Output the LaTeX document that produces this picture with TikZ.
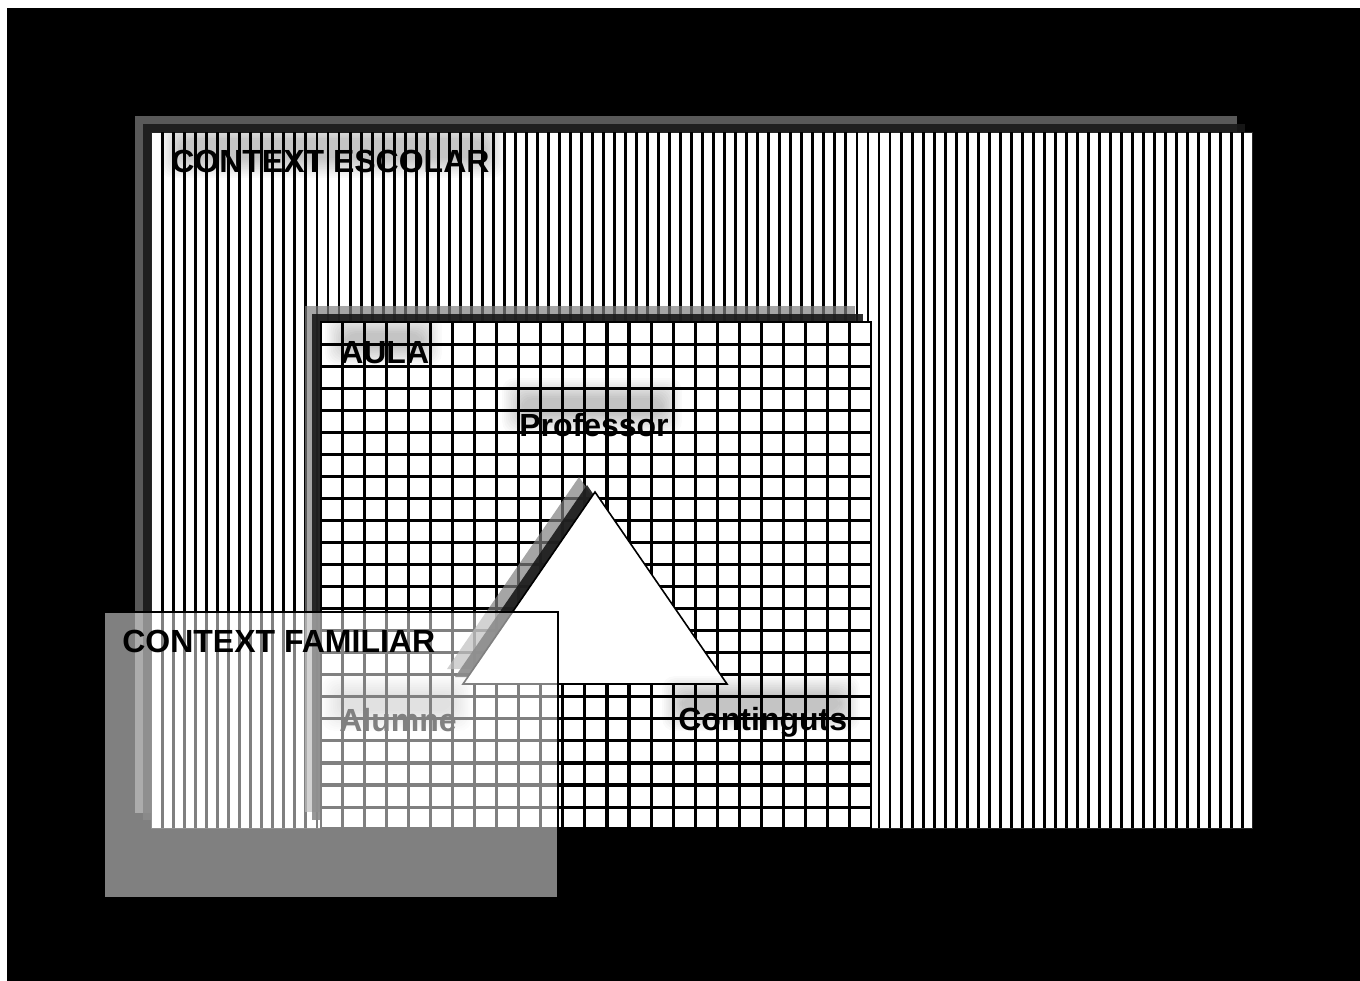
\documentclass[tikz,border=0pt]{standalone}
\usepackage{fontspec}
\setmainfont{Liberation Sans}
\definecolor{shgray}{gray}{0.5}
\definecolor{shdark}{gray}{0.1}
\newcommand\myglow[4]{%
  \foreach \g in {0,...,11}{%
    \fill[black, fill opacity=0.02, rounded corners=9pt]
      ({#1-(11-\g)*1.8},{#2-(11-\g)*1.8}) rectangle ({#3+(11-\g)*1.8},{#4+(11-\g)*1.8});
  }%
}
\begin{document}
\begin{tikzpicture}[x=0.75pt,y=-0.75pt,
  lbl/.style={inner sep=0pt, anchor=base west, font=\fontsize{24}{28}\selectfont\bfseries, text=black},
  shadowA/.style={fill=shgray, fill opacity=0.7},
  shadowB/.style={fill=shdark, fill opacity=0.9},
  stripe/.style={line width=2.2pt, draw=black},
  gridline/.style={line width=2.3pt, draw=black},
]
\useasboundingbox (0,0) rectangle (1360,981);
\fill[white] (0,0) rectangle (1360,981);
\fill[black] (7,8) rectangle (1360,981);

% CONTEXT ESCOLAR box
\fill[shadowA] (135,116) rectangle (1237,813);
\fill[shadowB] (143,124) rectangle (1245,820);
\draw[fill=white, draw=black!85, line width=0.75pt] (151,132) rectangle (1252,828);
\foreach \k in {0,...,98} \draw[stripe] ({162.7+11.02*\k},132) -- ({162.7+11.02*\k},828);
\begin{scope}
\clip (151,132) rectangle (1252,828);
\myglow{180}{140}{485}{158}
\end{scope}

% AULA box
\fill[shadowA] (305,306) rectangle (855,812);
\fill[shadowB] (312,314) rectangle (863,820);
\fill[white] (320.5,322) rectangle (871,828);
\foreach \k in {0,...,23} \draw[gridline] ({342.5+22.04*\k},322) -- ({342.5+22.04*\k},828);
\foreach \k in {0,...,21} \draw[gridline] (320.5,{344.2+22.04*\k}) -- (871,{344.2+22.04*\k});
\draw[line width=1.5pt] (320.5,322) rectangle (871,828);

% triangle
\fill[shadowA] (579,477) -- (447,669) -- (711,669) -- cycle;
\fill[shadowB] (587,485) -- (455,677) -- (719,677) -- cycle;
\draw[fill=white, line width=1.2pt, line join=miter] (595,492) -- (463,684) -- (727,684) -- cycle;

% glows and labels
\begin{scope}
\clip (320.5,322) rectangle (871,828);
\myglow{345}{333}{422}{346}
\end{scope}
\myglow{522}{398}{662}{414}
\myglow{342}{696}{452}{711}
\myglow{682}{696}{840}{711}
\node[lbl] (escolar) at (171,172) {CONTEXT ESCOLAR};
\node[lbl] (aula) at (340,363) {AULA};
\node[lbl] (professor) at (519,436) {Professor};
\node[lbl] (continguts) at (678,730) {Continguts};
\node[lbl] (alumne) at (339,731) {Alumne};

% CONTEXT FAMILIAR overlay
\fill[white, fill opacity=0.5] (104,612) rectangle (558,898);
\draw[line width=1.2pt] (104,612) rectangle (558,898);
\node[lbl] (familiar) at (122,652) {CONTEXT FAMILIAR};
\end{tikzpicture}
\end{document}
